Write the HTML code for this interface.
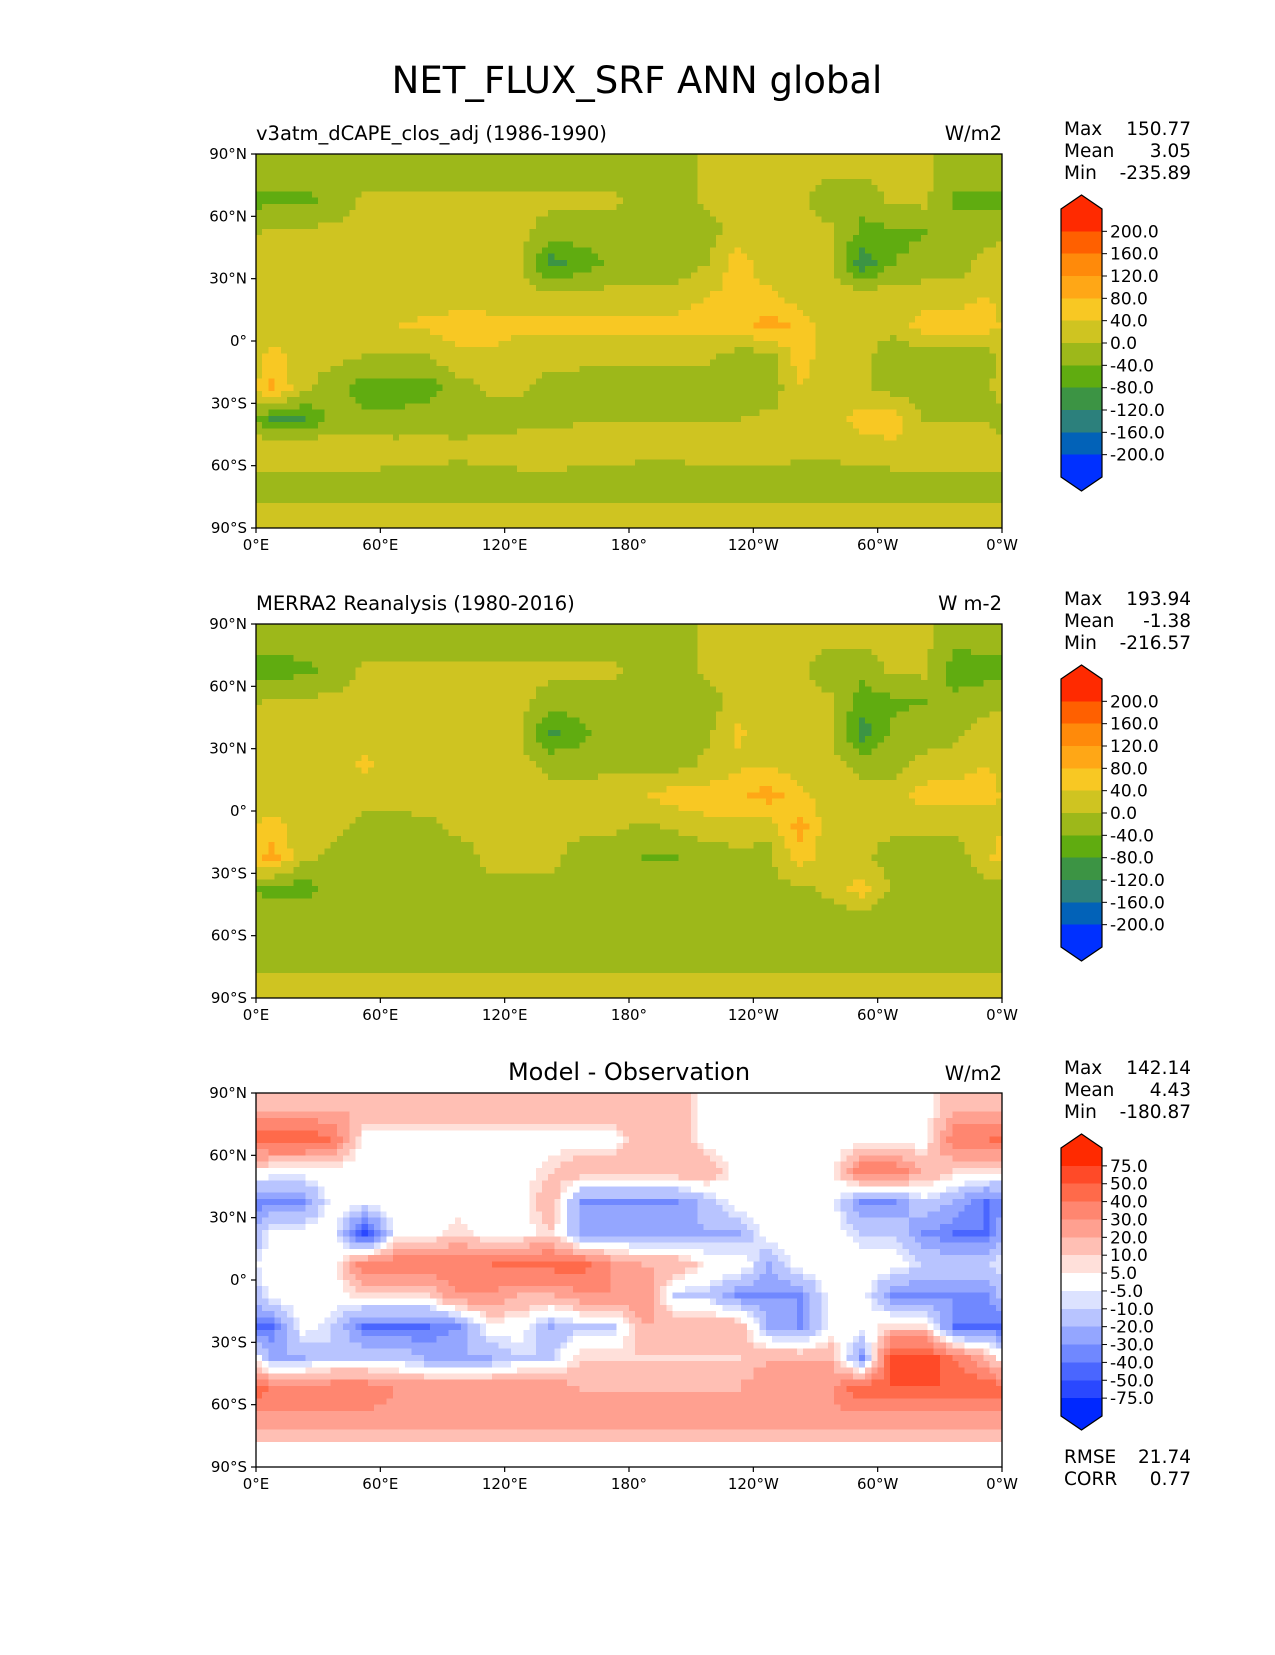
<!DOCTYPE html>
<html><head><meta charset="utf-8">
<style>
body{margin:0;background:#fff;}
svg text{font-family:"DejaVu Sans","Liberation Sans",sans-serif;fill:#000;}
</style></head>
<body>
<svg id="fig" width="1275" height="1650" viewBox="0 0 1275 1650" xmlns="http://www.w3.org/2000/svg">
<rect width="1275" height="1650" fill="#fff"/>
<text x="637" y="93" font-size="37" text-anchor="middle">NET_FLUX_SRF ANN global</text>
<g id="layer"></g>
</svg>
<script>
// ---- data (coarse 15° grids: rows 90N->90S, cols 0E eastward) ----
const latTickLabels = ["90°N","60°N","30°N","0°","30°S","60°S","90°S"];
const lonTickLabels = ["0°E","60°E","120°E","180°","120°W","60°W","0°W"];
const absLevels = [200,160,120,80,40,0,-40,-80,-120,-160,-200];
const absLabels = ["200.0","160.0","120.0","80.0","40.0","0.0","-40.0","-80.0","-120.0","-160.0","-200.0"];
const absColors = ["#ff2a00","#ff6000","#ff8a0a","#ffa716","#f8c823","#cfc421","#9db81a","#60ac10","#3c9444","#2c807c","#0262b8","#0030ff"];
const diffLevels = [75,50,40,30,20,10,5,-5,-10,-20,-30,-40,-50,-75];
const diffLabels = ["75.0","50.0","40.0","30.0","20.0","10.0","5.0","-5.0","-10.0","-20.0","-30.0","-40.0","-50.0","-75.0"];
const diffColors = ["#ff2a00","#ff4a28","#ff6a4a","#ff8670","#ffa090","#ffbfb4","#ffe0da","#ffffff","#dce2ff","#b8c4ff","#94a6ff","#7088ff","#4a66ff","#2a48ff","#0028ff"];

const modelGrid = [
[-20,-20,-20,-20,-20,-20,-20,-20,-20,-20,-20,-20,-20,-20,10,10,10,10,10,10,10,10,-20,-20],
[-50,-50,-30,10,10,10,10,10,10,10,10,10,-20,-20,10,10,10,10,-30,-30,10,10,-50,-50],
[10,10,10,10,10,10,10,10,10,-20,-20,-20,-20,-20,-20,20,10,10,10,-50,-50,-40,-20,-20],
[10,10,10,10,10,10,10,10,10,-100,-60,-30,-30,-30,0,60,10,10,10,-110,-40,-30,-30,20],
[10,10,10,20,10,10,20,10,10,10,10,10,10,10,40,50,50,10,10,20,20,20,20,40],
[10,10,10,40,40,50,60,60,50,50,50,50,50,60,60,60,100,70,10,10,10,60,60,60],
[60,10,10,0,0,0,30,30,20,20,20,10,10,10,10,-20,-20,60,10,10,-20,-20,-20,-20],
[90,10,-20,-60,-60,-60,-20,10,10,-20,-30,-30,-30,-30,-30,-30,-30,40,10,10,-20,-20,-20,-20],
[-80,-80,-30,-30,-30,-20,-20,-20,-20,-20,0,0,0,0,0,0,10,10,10,60,60,0,0,0],
[40,30,40,40,20,20,10,20,30,40,20,20,10,10,20,20,20,10,10,20,30,30,30,30],
[-20,-20,-20,-20,-20,-20,-20,-20,-20,-20,-20,-20,-20,-20,-20,-20,-20,-20,-20,-20,-20,-20,-20,-20],
[10,10,10,10,10,10,10,10,10,10,10,10,10,10,10,10,10,10,10,10,10,10,10,10]
];
const obsGrid = [
[-20,-20,-20,-30,-20,-20,-20,-20,-20,-20,-20,-20,-20,-20,10,10,10,10,10,10,10,10,-30,-30],
[-60,-50,-30,10,10,10,10,10,10,10,10,10,-20,-20,10,10,10,10,-30,-30,10,10,-60,-50],
[10,10,10,10,10,10,10,10,10,-20,-20,-20,-20,-20,-20,20,10,10,10,-60,-50,-40,-30,-20],
[20,20,10,10,10,10,10,10,10,-90,-50,-10,-10,-10,-10,50,10,10,10,-100,-30,-20,-10,30],
[10,10,10,50,10,10,20,10,10,-10,-20,-20,-20,-20,10,30,40,10,10,-10,-10,10,20,40],
[10,10,10,10,10,20,20,20,10,10,20,40,40,60,60,70,100,50,10,10,10,60,60,60],
[60,10,10,-10,-10,-10,10,10,10,10,10,10,-10,10,30,20,10,100,10,10,10,10,10,10],
[100,10,-10,-20,-20,-20,-20,10,10,10,-20,-20,-40,-40,-30,-10,-10,60,10,10,-20,-20,-20,30],
[-60,-60,-20,-20,-20,-10,-10,-10,-10,-10,-10,-10,-10,-10,-10,-10,-10,-10,10,60,-10,-20,-20,-20],
[-10,-10,-10,-10,-20,-20,-20,-10,-10,-20,-20,-20,-20,-10,-10,-10,-10,-20,-20,-30,-30,-20,-20,-10],
[-30,-30,-30,-30,-30,-30,-30,-30,-30,-30,-30,-30,-30,-30,-30,-30,-30,-30,-30,-30,-30,-30,-30,-30],
[10,10,10,10,10,10,10,10,10,10,10,10,10,10,10,10,10,10,10,10,10,10,10,10]
];
const diffGrid = [
[20,20,20,20,20,20,20,20,20,20,20,20,20,20,0,0,0,0,0,0,0,0,20,20],
[50,50,40,0,0,0,0,0,0,0,0,0,20,20,0,0,0,0,0,0,0,0,40,40],
[0,0,0,0,0,0,0,0,0,10,20,20,20,20,20,0,0,0,0,40,40,20,10,10],
[-30,-30,0,0,0,0,0,0,0,20,-30,-30,-30,-30,-15,0,0,0,0,-30,-30,-10,-20,-40],
[0,0,0,-60,0,0,10,0,0,10,-25,-25,-25,-25,-20,-20,0,0,0,-10,-10,-30,-40,-40],
[0,0,0,40,40,40,40,40,45,45,45,30,20,20,5,5,-20,0,0,0,0,-10,-10,-10],
[0,0,0,10,10,10,30,30,20,20,30,30,30,-10,-10,-30,-30,-30,0,0,-30,-30,-30,-30],
[-40,0,-10,-40,-40,-40,-30,0,0,-20,-10,-10,20,20,20,20,-20,-30,0,0,10,10,-40,-40],
[-20,-20,-10,-10,-10,-20,-20,-20,-10,-10,10,10,10,10,10,10,20,20,20,-30,60,60,40,20],
[40,40,40,40,30,30,30,30,30,30,20,20,20,20,20,20,30,30,30,50,50,50,50,50],
[25,25,25,25,25,25,25,25,25,25,25,25,25,25,25,25,25,25,25,25,25,25,25,25],
[0,0,0,0,0,0,0,0,0,0,0,0,0,0,0,0,0,0,0,0,0,0,0,0]
];
const panelStats = [
 {max:"150.77", mean:"3.05", min:"-235.89"},
 {max:"193.94", mean:"-1.38", min:"-216.57"},
 {max:"142.14", mean:"4.43", min:"-180.87"}
];
const rmseValue = "21.74";
const corrValue = "0.77";

// ---- layout ----
const NS="http://www.w3.org/2000/svg";
const layer=document.getElementById('layer');
const X0=256, W=746, H=374;
const panelTops=[154,624,1093];
function el(tag,attrs,parent){const e=document.createElementNS(NS,tag);for(const k in attrs)e.setAttribute(k,attrs[k]);(parent||layer).appendChild(e);return e;}
function xOfLon(lon){return X0+lon/360*W;}
function yOfLat(top,lat){return top+(90-lat)/180*H;}
function sample(grid,lat,lon){
  let fi=(82.5-lat)/15; fi=Math.max(0,Math.min(11,fi));
  let fj=(lon-7.5)/15; fj=((fj%24)+24)%24;
  const i0=Math.floor(fi), i1=Math.min(11,i0+1), ti=fi-i0;
  const j0=Math.floor(fj), j1=(j0+1)%24, tj=fj-j0;
  const a=grid[i0][j0]*(1-tj)+grid[i0][j1]*tj;
  const b=grid[i1][j0]*(1-tj)+grid[i1][j1]*tj;
  return a*(1-ti)+b*ti;
}
function colorFor(v,levels,colors){for(let k=0;k<levels.length;k++){if(v>levels[k])return colors[k];}return colors[colors.length-1];}

function drawPanel(p,grid,levels,colors,labels){
  const top=panelTops[p];
  const g=el('g',{});
  
  
  const step=3;
  for(let lat=90;lat>-90;lat-=step){
    for(let lon=0;lon<360;lon+=step){
      const v=sample(grid,lat-step/2,lon+step/2);
      const x=xOfLon(lon), y=yOfLat(top,lat);
      el('rect',{x:x.toFixed(2),y:y.toFixed(2),width:(W*step/360+0.6).toFixed(2),height:(H*step/180+0.6).toFixed(2),fill:colorFor(v,levels,colors),'shape-rendering':'crispEdges'},g);
    }
  }
  el('rect',{x:X0+W,y:top-2,width:40,height:H+4,fill:'#fff'});
  el('rect',{x:X0-2,y:top+H,width:W+44,height:4,fill:'#fff'});
  const fr=el('rect',{x:X0,y:top,width:W,height:H,fill:'none',stroke:'#000','stroke-width':1.3});
  
  
  latTickLabels.forEach((t,k)=>{
    const lat=90-30*k, y=yOfLat(top,lat);
    el('line',{x1:X0-5,x2:X0,y1:y,y2:y,stroke:'#000','stroke-width':1.2});
    const tx=el('text',{x:X0-9,y:y+5,'font-size':15,'text-anchor':'end'});tx.textContent=t;
    
    
  });
  lonTickLabels.forEach((t,k)=>{
    const x=xOfLon(60*k), y=top+H;
    el('line',{x1:x,x2:x,y1:y,y2:y+5,stroke:'#000','stroke-width':1.2});
    const tx=el('text',{x:x,y:y+22,'font-size':15,'text-anchor':'middle'});tx.textContent=t;
    
    
  });
  const cbx=1061, cbw=41, cbTop=top+55, cbH=268, n=colors.length, bh=cbH/n;
  const cb=el('g',{});
  
  
  el('polygon',{points:`${cbx},${cbTop} ${cbx+cbw/2},${cbTop-14} ${cbx+cbw},${cbTop}`,fill:colors[0]},cb);
  el('polygon',{points:`${cbx},${cbTop+cbH} ${cbx+cbw/2},${cbTop+cbH+14} ${cbx+cbw},${cbTop+cbH}`,fill:colors[n-1]},cb);
  for(let k=0;k<n;k++) el('rect',{x:cbx,y:(cbTop+k*bh).toFixed(2),width:cbw,height:(bh+0.5).toFixed(2),fill:colors[k],'shape-rendering':'crispEdges'},cb);
  el('polygon',{points:`${cbx},${cbTop} ${cbx+cbw/2},${cbTop-14} ${cbx+cbw},${cbTop} ${cbx+cbw},${cbTop+cbH} ${cbx+cbw/2},${cbTop+cbH+14} ${cbx},${cbTop+cbH}`,fill:'none',stroke:'#000','stroke-width':1.2},cb);
  labels.forEach((t,k)=>{
    const y=cbTop+(k+1)*bh;
    el('line',{x1:cbx+cbw,x2:cbx+cbw+5,y1:y,y2:y,stroke:'#000','stroke-width':1},cb);
    const tx=el('text',{x:cbx+cbw+8,y:y+6,'font-size':17},cb);tx.textContent=t;
    
    
  });
  const st=panelStats[p];
  [["Max",st.max],["Mean",st.mean],["Min",st.min]].forEach((r,k)=>{
    const y=top-19+22*k;
    const a=el('text',{x:1064,y:y,'font-size':18.5});a.textContent=r[0];
    
    
    const b=el('text',{x:1191,y:y,'font-size':18.5,'text-anchor':'end'});b.textContent=r[1];
    
    
  });
}
drawPanel(0,modelGrid,absLevels,absColors,absLabels);
drawPanel(1,obsGrid,absLevels,absColors,absLabels);
drawPanel(2,diffGrid,diffLevels,diffColors,diffLabels);

function txt(name,x,y,s,t,anchor){const e=el('text',{x:x,y:y,'font-size':s,'text-anchor':anchor||'start'});e.textContent=t;


return e;}
txt('panel1-subtitle',256,140,19.5,'v3atm_dCAPE_clos_adj (1986-1990)');
txt('panel1-units',1002,140,19.5,'W/m2','end');
txt('panel2-subtitle',256,610,19.5,'MERRA2 Reanalysis (1980-2016)');
txt('panel2-units',1002,610,19.5,'W m-2','end');
txt('panel3-title',629,1080,24,'Model - Observation','middle');
txt('panel3-units',1002,1080,19.5,'W/m2','end');
txt('rmse-label',1064,1463,18.5,'RMSE');
txt('rmse-value',1191,1463,18.5,rmseValue,'end');
txt('corr-label',1064,1485,18.5,'CORR');
txt('corr-value',1191,1485,18.5,corrValue,'end');
</script>
</body></html>
